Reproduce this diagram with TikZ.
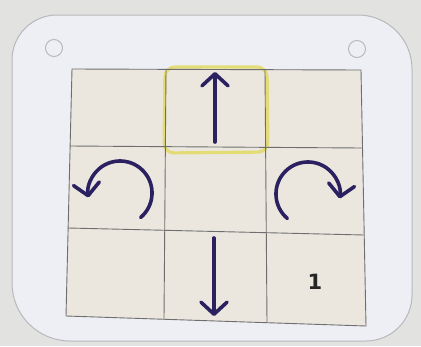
\documentclass[tikz,border=0pt]{standalone}
\usepackage{fontspec}
\newfontfamily\digitfont{DejaVu Sans}
\usetikzlibrary{arrows.meta}
\definecolor{bgcol}{HTML}{E2E2E0}
\definecolor{cardcol}{HTML}{EEEFF5}
\definecolor{cardedge}{HTML}{B8B8BC}
\definecolor{cellcol}{HTML}{EBE7DF}
\definecolor{gridcol}{HTML}{6E6E6E}
\definecolor{inkcol}{HTML}{2B2160}
\definecolor{hilite}{HTML}{E3DB6A}
\tikzset{
  gridline/.style={draw=gridcol, line width=0.9pt},
  inkarrow/.style={draw=inkcol, line width=3.6pt, line cap=round,
    -{Straight Barb[length=12pt, width=26pt, line cap=round, line join=round]}},
  holeshape/.style={draw=cardedge, line width=1pt, fill=cardcol},
  numlabel/.style={font=\digitfont\bfseries\fontsize{21}{21}\selectfont, text=black!85}
}
\begin{document}
\begin{tikzpicture}[x=1pt, y=-1pt]
\useasboundingbox (0,0) rectangle (421,346);
\fill[bgcol] (0,0) rectangle (421,346);
% card
\draw[cardedge, line width=1pt, fill=cardcol]
  (60,15) -- (358,15) arc[start angle=-90, end angle=0, radius=54]
  -- (412,295) arc[start angle=0, end angle=90, radius=46]
  -- (70,341) arc[start angle=90, end angle=180, radius=58]
  -- (12,60) arc[start angle=180, end angle=270, radius=45] -- cycle;
% holes
\node[holeshape, circle, minimum size=17pt, inner sep=0pt] (hL) at (54,48) {};
\node[holeshape, circle, minimum size=17pt, inner sep=0pt] (hR) at (357,49) {};
% grid corners
\coordinate (TL) at (72,69);
\coordinate (TR) at (361,70);
\coordinate (BR) at (366,326);
\coordinate (BL) at (66,316);
\fill[cellcol] (TL) -- (TR) -- (BR) -- (BL) -- cycle;
% highlight
\draw[hilite, line width=3.2pt, rounded corners=10pt, opacity=0.9]
  (165,67) -- (267,67) -- (268,152) -- (164,153) -- cycle;
% grid lines
\draw[gridline] (TL) -- (TR) -- (BR) -- (BL) -- cycle;
\draw[gridline] (166,69) -- (164,319);
\draw[gridline] (265,70) -- (267,322);
\draw[gridline] (70,146) -- (362,148);
\draw[gridline] (68,228) -- (364,235);
% arrows
\coordinate (upS) at (215,142);
\coordinate (upE) at (215,72);
\draw[inkarrow] (upS) -- (upE);
\coordinate (dnS) at (214,238);
\coordinate (dnE) at (214,316);
\draw[inkarrow] (dnS) -- (dnE);
\coordinate (lS) at (140.6,217.5);
\draw[inkarrow] (lS) arc[start angle=50, end angle=-188, radius=32];
\coordinate (rS) at (287.4,218.5);
\draw[inkarrow] (rS) arc[start angle=130, end angle=368, radius=32];
% number
\node[numlabel] (one) at (315,282) {1};
\end{tikzpicture}
\end{document}
